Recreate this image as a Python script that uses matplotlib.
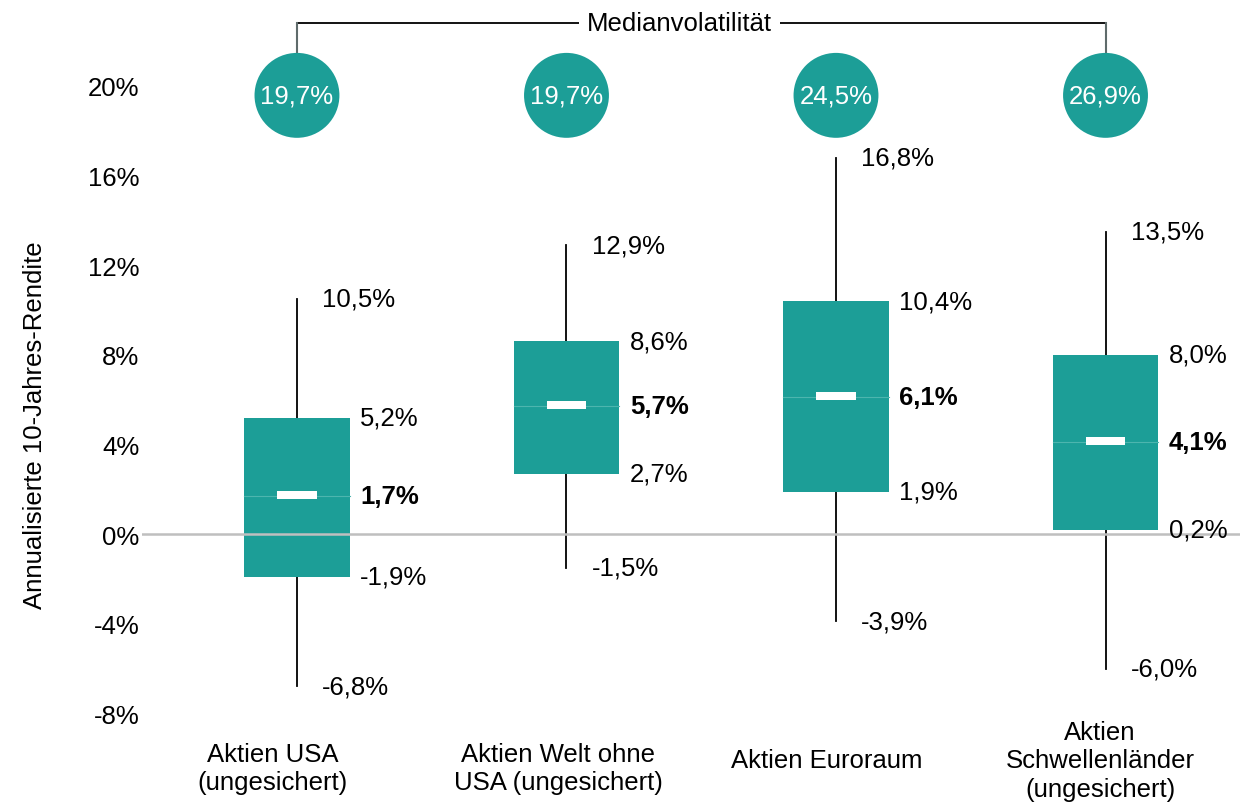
import matplotlib
matplotlib.use("Agg")
import matplotlib.pyplot as plt
from matplotlib.patches import Rectangle, Ellipse

plt.rcParams['font.family'] = ['Liberation Sans', 'DejaVu Sans']

# data (annualised 10-year returns, %)
categories = ["Aktien USA\n(ungesichert)", "Aktien Welt ohne\nUSA (ungesichert)",
              "Aktien Euroraum", "Aktien\nSchwellenländer\n(ungesichert)"]
whisker_low = [-6.8, -1.5, -3.9, -6.0]
q1 = [-1.9, 2.7, 1.9, 0.2]
median = [1.7, 5.7, 6.1, 4.1]
q3 = [5.2, 8.6, 10.4, 8.0]
whisker_high = [10.5, 12.9, 16.8, 13.5]
median_vol = [19.7, 19.7, 24.5, 26.9]
yticks = [-8, -4, 0, 4, 8, 12, 16, 20]

TEAL = "#1c9e97"
FS = 18.5


def pct(v):
    return f"{v:.1f}%".replace(".", ",")


fig = plt.figure(figsize=(12.53, 8.04), dpi=100)
ax = fig.add_axes([142 / 1253, 0, (1240 - 142) / 1253, 1])
ax.set_xlim(-0.575, 3.499)
ax.set_ylim(-12.0, 23.88)
for s in ax.spines.values():
    s.set_visible(False)
ax.set_xticks([])
ax.set_yticks(yticks)
ax.set_yticklabels([f"{t}%" for t in yticks], fontsize=FS)
ax.tick_params(axis='y', length=0, pad=2)

ax.axhline(0, color="#bfbfbf", lw=1.8, zorder=3)

bw = 0.39
for i in range(len(categories)):
    ax.plot([i, i], [whisker_low[i], whisker_high[i]], color="black", lw=1.3, zorder=1)
    ax.add_patch(Rectangle((i - bw / 2, q1[i]), bw, q3[i] - q1[i], facecolor=TEAL,
                           edgecolor="none", zorder=2))
    ax.plot([i - bw / 2, i + bw / 2], [median[i], median[i]], color="#4db5ae", lw=0.8, zorder=2)
    ax.add_patch(Rectangle((i - 0.074, median[i] - 0.13), 0.148, 0.36, facecolor="white",
                           edgecolor="none", zorder=4))

    lx = i + bw / 2 + 0.04
    ax.text(lx, q3[i], pct(q3[i]), fontsize=FS, va="center", ha="left")
    ax.text(lx, median[i], pct(median[i]), fontsize=FS, va="center", ha="left", fontweight="bold")
    ax.text(lx, q1[i], pct(q1[i]), fontsize=FS, va="center", ha="left")
    ax.text(i + 0.093, whisker_high[i], pct(whisker_high[i]), fontsize=FS, va="center", ha="left")
    ax.text(i + 0.093, whisker_low[i], pct(whisker_low[i]), fontsize=FS, va="center", ha="left")

    # median volatility bubble
    ax.add_patch(Ellipse((i, 19.58), 0.315, 3.79, facecolor=TEAL, edgecolor="none", zorder=2))
    ax.text(i, 19.58, pct(median_vol[i]), fontsize=FS, color="white", ha="center", va="center",
            zorder=3)

# category labels
label_shift = [-0.09, -0.03, -0.035, -0.02]
label_y = [-10.45, -10.45, -10.1, -10.1]
for i, c in enumerate(categories):
    ax.text(i + label_shift[i], label_y[i], c, fontsize=FS, ha="center", va="center",
            linespacing=1.22)

# bracket for median volatility
top = 22.81
circ_top = 19.58 + 1.9
ax.plot([0, 3], [top, top], color="black", lw=1.3, zorder=1, clip_on=False)
ax.plot([0, 0], [circ_top, top], color="#5f6b6b", lw=1.5, zorder=1)
ax.plot([3, 3], [circ_top, top], color="#5f6b6b", lw=1.5, zorder=1)
ax.text(1.42, top, "Medianvolatilität", fontsize=FS, ha="center", va="center",
        bbox=dict(facecolor="white", edgecolor="none", pad=6), zorder=5)

fig.text(35 / 1253, 1 - 425 / 804, "Annualisierte 10-Jahres-Rendite", fontsize=FS,
         rotation=90, ha="center", va="center")

fig.savefig("out.png", dpi=100)
